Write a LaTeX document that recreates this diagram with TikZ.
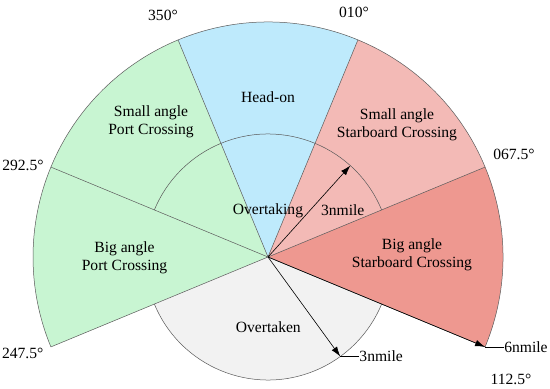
\documentclass[tikz,border=0pt]{standalone}
\usepackage{fontspec}
\setmainfont{Liberation Serif}
\usetikzlibrary{arrows.meta}
\definecolor{headon}{RGB}{190,234,252}
\definecolor{portc}{RGB}{200,245,210}
\definecolor{stbsmall}{RGB}{243,186,182}
\definecolor{stbbig}{RGB}{238,152,144}
\definecolor{overtk}{RGB}{242,242,242}
\begin{document}
\begin{tikzpicture}[x=1pt,y=1pt,
  lbl/.style={font=\fontsize{15.6}{18.3}\selectfont, align=center, inner sep=0pt, text=black},
  edge/.style={draw=black!65, line width=0.5pt},
  arr/.style={-{Latex[length=10pt,width=6.5pt]}, line width=0.6pt, draw=black}]
\useasboundingbox (0,0) rectangle (550,389);
\coordinate (O) at (268,132);
\def\R{235}
\def\r{123}
% sector fills
\fill[portc]    (O) -- ++(112.5:\R) arc[start angle=112.5,end angle=157.5,radius=\R] -- cycle;
\fill[headon]   (O) -- ++(67.5:\R)  arc[start angle=67.5,end angle=112.5,radius=\R] -- cycle;
\fill[stbsmall] (O) -- ++(22.5:\R)  arc[start angle=22.5,end angle=67.5,radius=\R] -- cycle;
\fill[stbbig]   (O) -- ++(-22.5:\R) arc[start angle=-22.5,end angle=22.5,radius=\R] -- cycle;
\fill[portc]    (O) -- ++(157.5:\R) arc[start angle=157.5,end angle=202.5,radius=\R] -- cycle;
\fill[overtk]   (O) -- ++(-22.5:\r) arc[start angle=-22.5,end angle=-157.5,radius=\r] -- cycle;
% outlines
\draw[edge] (O) ++(-22.5:\R) arc[start angle=-22.5,end angle=202.5,radius=\R];
\foreach \a in {-22.5,22.5,67.5,112.5,157.5,202.5} \draw[edge] (O) -- ++(\a:\R);
\draw[edge] (O) ++(22.5:\r) arc[start angle=22.5,end angle=157.5,radius=\r];
\draw[edge] (O) ++(202.5:\r) arc[start angle=202.5,end angle=337.5,radius=\r];
% arrow end points
\path (O) ++(48:\r) coordinate (A1);
\path (O) ++(-54:\r) coordinate (A2);
\path (O) ++(-22.5:\R) coordinate (A3);
\draw[arr] (O) -- (A1);
\draw[arr] (O) -- (A2);
\draw[arr] (O) -- (A3);
% range labels
\node[lbl] (n1) at (342.7,179) {3nmile};
\node[lbl,anchor=west] (n2) at ([xshift=19pt]A2) {3nmile};
\draw[line width=0.5pt] (A2) -- (n2.west);
\node[lbl,anchor=west] (n3) at ([xshift=19pt]A3) {6nmile};
\draw[line width=0.5pt] (A3) -- (n3.west);
% sector labels
\node[lbl] (sp) at (151,267) {Small angle\\Port Crossing};
\node[lbl] (ho) at (268,292) {Head-on};
\node[lbl] (ss) at (397,264) {Small angle\\Starboard Crossing};
\node[lbl] (bs) at (412,134) {Big angle\\Starboard Crossing};
\node[lbl] (bp) at (124.5,131.5) {Big angle\\Port Crossing};
\node[lbl] (ot) at (268,178.3) {Overtaking};
\node[lbl] (on) at (268.3,62.3) {Overtaken};
% bearing labels
\node[lbl] (d350) at (163,373.3) {350°};
\node[lbl] (d010) at (354,376.7) {010°};
\node[lbl] (d067) at (514,235) {067.5°};
\node[lbl] (d292) at (23,223.3) {292.5°};
\node[lbl] (d247) at (22.7,36) {247.5°};
\node[lbl] (d112) at (511,10) {112.5°};
\end{tikzpicture}
\end{document}
